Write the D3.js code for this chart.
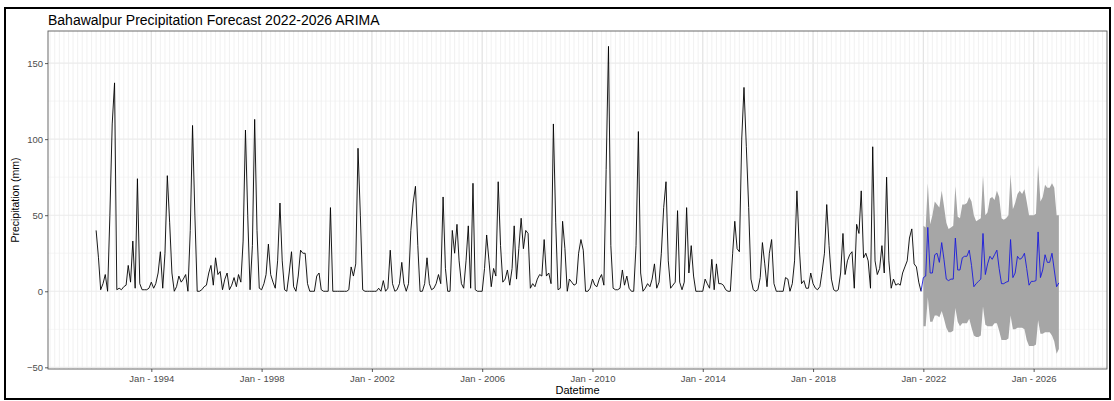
<!DOCTYPE html>
<html>
<head>
<meta charset="utf-8">
<script src="https://cdn.jsdelivr.net/npm/d3@7"></script>
<style>
  html, body { margin: 0; padding: 0; background: #fff; }
  svg { display: block; font-family: "Liberation Sans", Arial, sans-serif; }
</style>
</head>
<body>
<svg id="chart" width="1114" height="401"></svg>
<script>
// ---------------- DATA ----------------
const titleText = "Bahawalpur Precipitation Forecast 2022-2026 ARIMA";
const xTitle = "Datetime";
const yTitle = "Precipitation (mm)";
const startYear = 1992;          // first observed month: Jan 1992
const forecastStartYear = 2022;  // first forecast month: Jan 2022

// observed monthly precipitation (mm), Jan 1992 .. Dec 2021
const obs1992_1996 = [
  40,22,1,5,11,0,50,110,137,1,2,1,
  3,4,17,6,33,2,74,5,1,1,1,2,
  6,2,5,12,26,2,25,76,45,12,0,3,
  10,6,8,11,0,40,109,50,0,0,1,3,
  4,12,17,4,22,11,13,1,8,12,1,4
];
const obs1997_2001 = [
  9,3,11,6,33,106,50,1,30,113,40,2,
  1,5,11,31,11,6,2,20,58,20,1,0,
  12,26,3,0,10,27,25,25,5,0,0,0,
  10,12,1,0,0,0,55,0,0,0,0,0,
  0,0,1,16,10,18,94,50,1,0,0,0
];
const obs2002_2006 = [
  0,0,0,2,0,7,0,2,27,5,0,1,
  5,19,5,0,5,40,58,69,30,0,0,5,
  22,5,1,2,5,11,5,62,15,0,0,40,
  25,44,20,5,2,20,43,2,71,1,0,0,
  0,15,37,20,3,15,10,72,30,6,8,14
];
const obs2007_2011 = [
  4,15,43,8,28,48,28,40,38,2,5,3,
  8,11,10,34,10,12,5,110,45,1,2,46,
  28,0,8,6,4,5,25,34,27,0,0,2,
  8,4,3,8,11,4,80,161,30,2,1,1,
  2,14,4,10,2,0,0,30,105,12,0,2
];
const obs2012_2016 = [
  5,3,8,18,2,6,25,55,72,20,2,4,
  6,53,6,1,6,55,12,30,10,0,0,0,
  0,8,5,2,21,1,18,5,5,4,1,0,
  0,25,46,28,26,100,134,95,55,8,1,0,
  1,9,32,18,3,25,34,5,0,0,0,0
];
const obs2017_2021 = [
  9,8,0,5,20,66,30,5,7,2,2,12,
  5,2,1,3,13,25,57,30,8,1,0,1,
  12,38,11,20,24,26,2,44,38,66,22,25,
  20,2,95,20,11,15,30,12,75,20,2,8,
  4,5,4,12,16,20,35,41,18,16,6,0
];

// ARIMA forecast (mm), Jan 2022 .. Dec 2026, with interval bounds
const forecastMean = [
  9,10,42,12,12,24,25,19,32,21,8,7,
  8,8,35,14,14,22,23,23,27,17,3,5,
  6.5,8,38,11,18,23,21,24,27,15,5,5,
  6,6.5,34,9,12,23,21,22,25,15,4,6.5,
  6.5,7,39,9,14,24,19,19,25,14,3,5.5
];
const forecastUpper = [
  43,42,71,44,50,59,57,55,66,56,45,41,
  42,43,69,49,48,57,57,58,62,59,50,46,
  47,48,76,50,52,61,62,60,66,62,48,47,
  48,50,77,54,58,64,66,64,67,59,50,50,
  50,51,83,59,62,70,68,68,71,68,50,50
];
const forecastLower = [
  -23,-23,-4,-20,-20,-16,-16,-17,-13,-18,-24,-27,
  -27,-26,-11,-20,-23,-21,-21,-21,-18,-24,-29,-30,
  -30,-29,-10,-22,-23,-23,-23,-21,-21,-26,-32,-32,
  -32,-31,-16,-25,-25,-24,-24,-24,-25,-32,-36,-36,
  -36,-35,-19,-28,-28,-27,-27,-27,-29,-33,-41,-38
];

const yTickValues = [-50, 0, 50, 100, 150];
const yMinorValues = [-25, 25, 75, 125];
const xTickYears = [1994, 1998, 2002, 2006, 2010, 2014, 2018, 2022, 2026];

// ---------------- BUILD ----------------
const observed = [].concat(obs1992_1996, obs1997_2001, obs2002_2006, obs2007_2011, obs2012_2016, obs2017_2021);
const obsData = observed.map((v, i) => ({ date: new Date(startYear, i, 1), value: v }));
const fcData = forecastMean.map((v, i) => ({
  date: new Date(forecastStartYear, i, 1),
  value: v, lo: forecastLower[i], hi: forecastUpper[i]
}));

const W = 1114, H = 401;
const margin = { left: 48, right: 7, top: 31, bottom: 32 };
const svg = d3.select("#chart");

svg.append("rect").attr("x", 0).attr("y", 0).attr("width", W).attr("height", H).attr("fill", "#fff");

const allDates = obsData.map(d => d.date).concat(fcData.map(d => d.date));
const dExt = d3.extent(allDates);
const dSpan = dExt[1] - dExt[0];
const x = d3.scaleTime()
  .domain([new Date(+dExt[0] - 0.05 * dSpan), new Date(+dExt[1] + 0.05 * dSpan)])
  .range([margin.left, W - margin.right]);

const vMin = d3.min(forecastLower.concat(observed));
const vMax = d3.max(forecastUpper.concat(observed));
const vSpan = vMax - vMin;
const y = d3.scaleLinear()
  .domain([vMin - 0.05 * vSpan, vMax + 0.05 * vSpan])
  .range([H - margin.bottom, margin.top]);

const px0 = margin.left, px1 = W - margin.right, py0 = margin.top, py1 = H - margin.bottom;

// grid
const grid = svg.append("g");
const minorDates = d3.timeMonth.every(2).range(x.domain()[0], x.domain()[1]);
grid.selectAll("line.vmin").data(minorDates).join("line")
  .attr("x1", d => x(d)).attr("x2", d => x(d)).attr("y1", py0).attr("y2", py1)
  .attr("stroke", "#e8e8e8").attr("stroke-width", 0.6);
const majorDates = xTickYears.map(yv => new Date(yv, 0, 1));
grid.selectAll("line.vmaj").data(majorDates).join("line")
  .attr("x1", d => x(d)).attr("x2", d => x(d)).attr("y1", py0).attr("y2", py1)
  .attr("stroke", "#e3e3e3").attr("stroke-width", 1.1);
grid.selectAll("line.hmin").data(yMinorValues).join("line")
  .attr("x1", px0).attr("x2", px1).attr("y1", d => y(d)).attr("y2", d => y(d))
  .attr("stroke", "#f0f0f0").attr("stroke-width", 0.6);
grid.selectAll("line.hmaj").data(yTickValues).join("line")
  .attr("x1", px0).attr("x2", px1).attr("y1", d => y(d)).attr("y2", d => y(d))
  .attr("stroke", "#ebebeb").attr("stroke-width", 1.1);

// forecast band
const area = d3.area().x(d => x(d.date)).y0(d => y(d.lo)).y1(d => y(d.hi));
svg.append("path").datum(fcData).attr("d", area)
  .attr("fill", "#a6a6a6").attr("stroke", "none");

// observed line
const line = d3.line().x(d => x(d.date)).y(d => y(d.value));
svg.append("path").datum(obsData).attr("d", line)
  .attr("fill", "none").attr("stroke", "#000").attr("stroke-width", 0.9)
  .attr("stroke-linejoin", "round");

// forecast line (joined to last observation)
const fcLine = [obsData[obsData.length - 1]].concat(fcData);
svg.append("path").datum(fcLine).attr("d", line)
  .attr("fill", "none").attr("stroke", "#1a1adb").attr("stroke-width", 0.9)
  .attr("stroke-linejoin", "round");

// panel border
svg.append("rect").attr("x", px0).attr("y", py0).attr("width", px1 - px0).attr("height", py1 - py0)
  .attr("fill", "none").attr("stroke", "#5a5a5a").attr("stroke-width", 0.9);

// axes
const yAxis = d3.axisLeft(y).tickValues(yTickValues).tickSize(3).tickPadding(2);
const gy = svg.append("g").attr("transform", `translate(${px0},0)`).call(yAxis);
gy.select(".domain").remove();
gy.selectAll(".tick line").attr("stroke", "#333").attr("stroke-width", 0.8);
gy.selectAll(".tick text").attr("fill", "#4d4d4d").attr("font-size", "9.5px")
  .attr("font-family", "Liberation Sans, Arial, sans-serif");

const xAxis = d3.axisBottom(x).tickValues(majorDates)
  .tickFormat(d => "Jan - " + d.getFullYear()).tickSize(3).tickPadding(3);
const gx = svg.append("g").attr("transform", `translate(0,${py1})`).call(xAxis);
gx.select(".domain").remove();
gx.selectAll(".tick line").attr("stroke", "#333").attr("stroke-width", 0.8);
gx.selectAll(".tick text").attr("fill", "#4d4d4d").attr("font-size", "9.5px")
  .attr("font-family", "Liberation Sans, Arial, sans-serif");

// titles
svg.append("text").attr("x", px0).attr("y", 24.5).text(titleText)
  .attr("font-size", "14px").attr("fill", "#000");
svg.append("text").attr("x", (px0 + px1) / 2).attr("y", 393.5).attr("text-anchor", "middle")
  .text(xTitle).attr("font-size", "11px").attr("fill", "#000");
svg.append("text").attr("transform", `translate(19,${(py0 + py1) / 2}) rotate(-90)`)
  .attr("text-anchor", "middle").text(yTitle).attr("font-size", "10.5px").attr("fill", "#000");

// outer frame
svg.append("rect").attr("x", 5).attr("y", 8).attr("width", 1105).attr("height", 391)
  .attr("fill", "none").attr("stroke", "#000").attr("stroke-width", 2);
</script>
</body>
</html>
